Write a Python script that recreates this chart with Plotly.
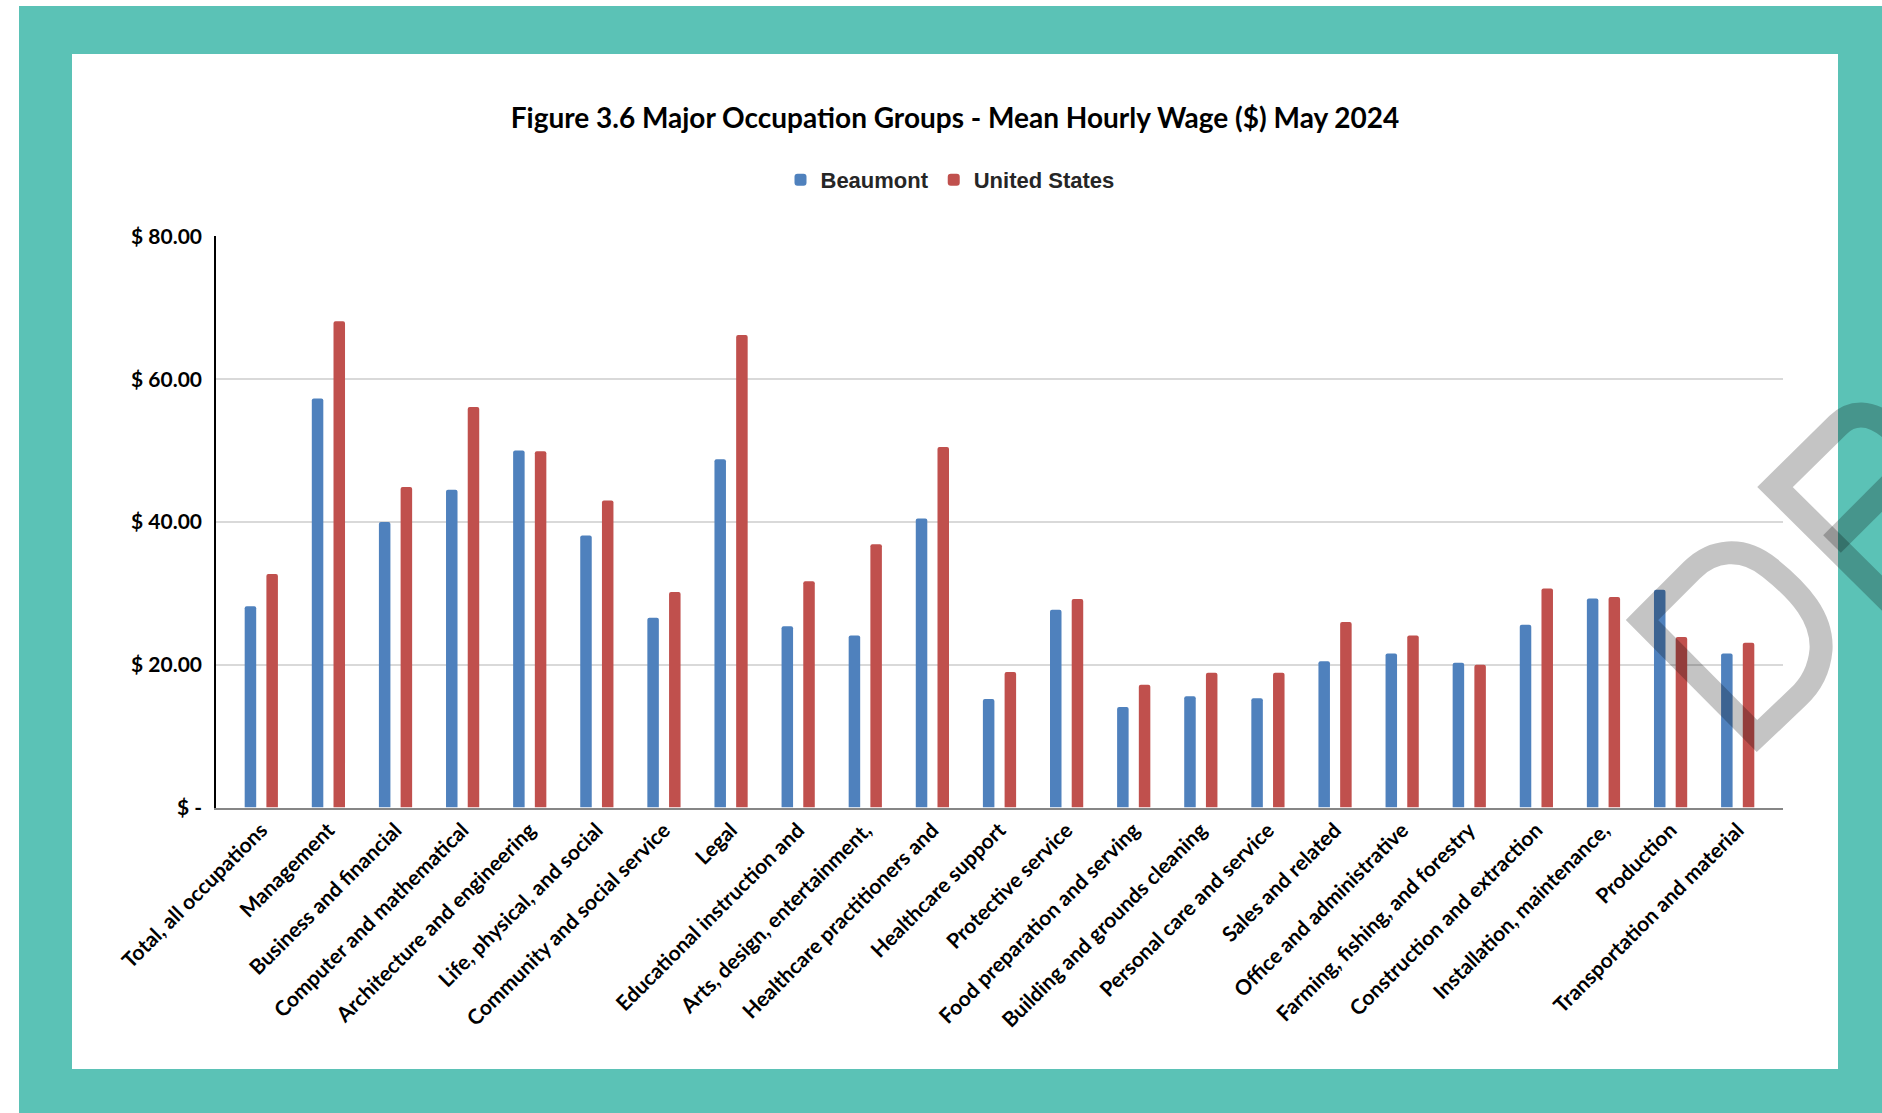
import plotly.graph_objects as go

# Occupation groups (labels as they appear on the axis, truncated)
categories = [
    "Total, all occupations",
    "Management",
    "Business and financial",
    "Computer and mathematical",
    "Architecture and engineering",
    "Life, physical, and social",
    "Community and social service",
    "Legal",
    "Educational instruction and",
    "Arts, design, entertainment,",
    "Healthcare practitioners and",
    "Healthcare support",
    "Protective service",
    "Food preparation and serving",
    "Building and grounds cleaning",
    "Personal care and service",
    "Sales and related",
    "Office and administrative",
    "Farming, fishing, and forestry",
    "Construction and extraction",
    "Installation, maintenance,",
    "Production",
    "Transportation and material",
]

# Mean hourly wage ($), May 2024
beaumont = [28.2, 57.3, 40.0, 44.5, 50.0, 38.1, 26.6, 48.8, 25.4, 24.1, 40.5, 15.2,
            27.7, 14.1, 15.6, 15.3, 20.5, 21.6, 20.3, 25.6, 29.3, 30.5, 21.6]
united_states = [32.7, 68.1, 44.9, 56.1, 49.9, 43.0, 30.2, 66.2, 31.7, 36.9, 50.5, 19.0,
                 29.2, 17.2, 18.9, 18.9, 26.0, 24.1, 20.0, 30.7, 29.5, 23.9, 23.1]

y_tick_values = [0, 20, 40, 60, 80]
y_tick_labels = ["$ -", "$ 20.00", "$ 40.00", "$ 60.00", "$ 80.00"]

W, H = 1882, 1113
TEAL = "#5BC2B6"
BLUE = "#4F81BD"
RED = "#C0504D"


def px(x, y):
    """Pixel position -> paper fraction (margins are zero)."""
    return x / W, 1 - y / H


def path(points_cmds):
    out = []
    for cmd, pts in points_cmds:
        coords = []
        for (x, y) in pts:
            fx, fy = px(x, y)
            coords.append(f"{fx:.5f},{fy:.5f}")
        out.append(cmd + " ".join(coords))
    return " ".join(out)


fig = go.Figure()
fig.add_trace(go.Bar(name="Beaumont", x=categories, y=beaumont,
                     marker=dict(color=BLUE, line=dict(width=0))))
fig.add_trace(go.Bar(name="United States", x=categories, y=united_states,
                     marker=dict(color=RED, line=dict(width=0))))

# plot-area placement in pixels
plot_left, plot_right = 216, 1783
plot_top, plot_bottom = 236.4, 807.6

shapes = []
# outer teal frame and white panel
fx0, fy0 = px(19, 6)
fx1, fy1 = px(W + 5, H + 5)
shapes.append(dict(type="rect", xref="paper", yref="paper", x0=fx0, y0=fy1, x1=fx1, y1=fy0,
                   fillcolor=TEAL, line=dict(width=0), layer="below"))
fx0, fy0 = px(72, 54)
fx1, fy1 = px(1838, 1069)
shapes.append(dict(type="rect", xref="paper", yref="paper", x0=fx0, y0=fy1, x1=fx1, y1=fy0,
                   fillcolor="white", line=dict(width=0), layer="below"))

# translucent logo watermark
wm = dict(color="rgba(0,0,0,0.23)", width=23)
d_path = path([
    ("M", [(1642, 620)]),
    ("L", [(1692, 570)]),
    ("C", [(1712, 550), (1742, 545), (1770, 568)]),
    ("C", [(1800, 592), (1823, 618), (1821, 650)]),
    ("C", [(1819, 672), (1810, 686), (1798, 697)]),
    ("L", [(1757, 736)]),
    ("Z", []),
])
shapes.append(dict(type="path", xref="paper", yref="paper", path=d_path,
                   line=wm, fillcolor="rgba(0,0,0,0)", layer="above"))
b_path = path([
    ("M", [(1915, 626)]),
    ("L", [(1775, 487)]),
    ("L", [(1838, 425)]),
    ("C", [(1850, 413), (1870, 408), (1895, 432)]),
    ("L", [(1915, 452)]),
])
shapes.append(dict(type="path", xref="paper", yref="paper", path=b_path,
                   line=dict(color="rgba(0,0,0,0.23)", width=25), fillcolor="rgba(0,0,0,0)",
                   layer="above"))
bar_path = path([
    ("M", [(1832, 544)]),
    ("L", [(1915, 461)]),
])
shapes.append(dict(type="path", xref="paper", yref="paper", path=bar_path,
                   line=dict(color="rgba(0,0,0,0.23)", width=25), layer="above"))

tx, ty = px(955, 118)
lx, ly = px(950, 180)

fig.update_layout(
    width=W, height=H, autosize=False,
    margin=dict(l=0, r=0, t=0, b=0, pad=0, autoexpand=False),
    paper_bgcolor="white",
    plot_bgcolor="rgba(0,0,0,0)",
    barmode="group",
    bargap=0.353,
    bargroupgap=0.47,
    barcornerradius=2,
    title=dict(text="Figure 3.6 Major Occupation Groups - Mean Hourly Wage ($) May 2024",
               x=tx, y=ty, xanchor="center", yanchor="middle", xref="paper", yref="paper",
               automargin=False,
               font=dict(family="Lato", size=28, color="#000000", weight="bold")),
    legend=dict(orientation="h", x=lx, y=ly, xanchor="center", yanchor="middle",
                font=dict(family="Liberation Sans, Arial", size=22, color="#262626",
                          weight="bold"),
                bgcolor="rgba(0,0,0,0)", traceorder="normal"),
    shapes=shapes,
    xaxis=dict(
        domain=[plot_left / W, plot_right / W],
        type="category",
        range=[-0.675, len(categories) - 1 + 0.675],
        tickangle=-45,
        tickfont=dict(family="Lato", size=21, color="#000000", weight="bold"),
        showline=True, linecolor="#868686", linewidth=2,
        showgrid=False, ticks="", zeroline=False,
        automargin=False, fixedrange=True,
    ),
    yaxis=dict(
        domain=[1 - plot_bottom / H, 1 - plot_top / H],
        range=[0, 80],
        tickvals=y_tick_values, ticktext=y_tick_labels,
        tickfont=dict(family="Lato", size=21, color="#000000", weight="bold"),
        showline=True, linecolor="#000000", linewidth=1.5,
        showgrid=True, gridcolor="#D9D9D9", gridwidth=1.5,
        zeroline=False, ticks="", ticklabelstandoff=8,
        automargin=False, fixedrange=True,
    ),
    showlegend=True,
)

fig.write_html("out.html")
